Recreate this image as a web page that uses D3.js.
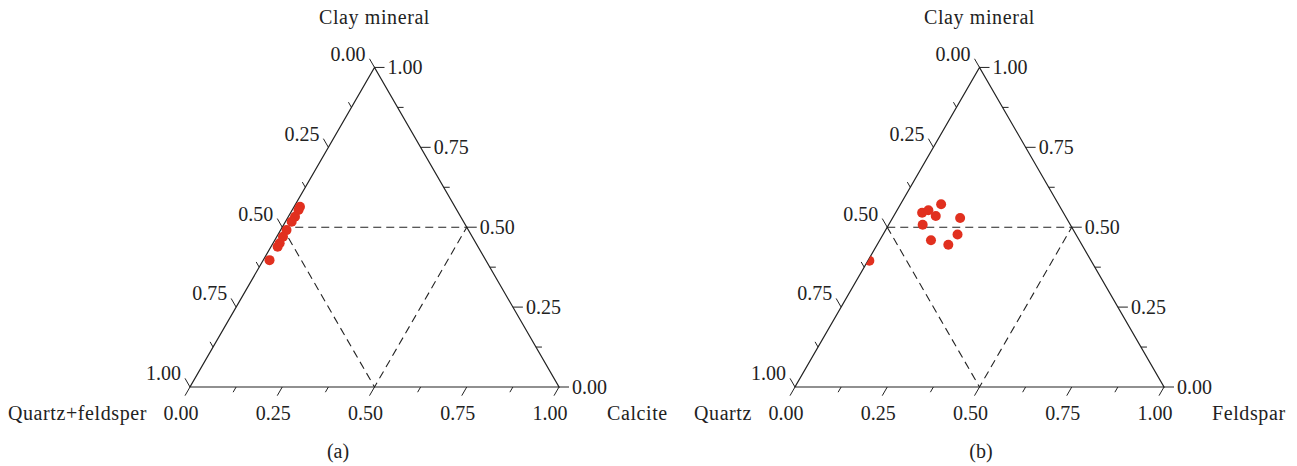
<!DOCTYPE html>
<html>
<head>
<meta charset="utf-8">
<script src="https://cdn.jsdelivr.net/npm/d3@7"></script>
<style>
  html, body { margin: 0; padding: 0; background: #fff; }
  svg { display: block; }
  text { font-family: "Liberation Serif", "Times New Roman", serif; fill: #222; }
  .title { letter-spacing: 0.6px; }
</style>
</head>
<body>
<script>
// tick values along each side, labels only on the quarter marks
const TICKS = [0, 0.125, 0.25, 0.375, 0.5, 0.625, 0.75, 0.875, 1]
const TICK_LABELS = ["0.00", "0.25", "0.50", "0.75", "1.00"]

// panel (a): clay mineral / quartz+feldsper / calcite
const clayA    = [0.564, 0.554, 0.533, 0.517, 0.491, 0.470, 0.450, 0.439, 0.397]
const calciteA = [0.016, 0.017, 0.018, 0.017, 0.016, 0.017, 0.018, 0.018, 0.017]

// panel (b): clay mineral / quartz / feldspar
const clayB     = [0.545, 0.553, 0.535, 0.572, 0.529, 0.508, 0.459, 0.477, 0.445, 0.395]
const feldsparB = [0.072, 0.085, 0.114, 0.110, 0.183, 0.092, 0.139, 0.202, 0.193, 0.004]

const panels = [
  { id: "a", x0: 190, top: "Clay mineral", left: "Quartz+feldsper", right: "Calcite",
    clay: clayA, bottom: calciteA, caption: "(a)", captionX: 338 },
  { id: "b", x0: 795, top: "Clay mineral", left: "Quartz", right: "Feldspar",
    clay: clayB, bottom: feldsparB, caption: "(b)", captionX: 981 }
]

const width = 1297, height = 466
const side = 369, base = 387
const h = side * Math.sqrt(3) / 2
const MAJOR = 10, MINOR = 6
const FS = 20

const svg = d3.select("body").append("svg")
  .attr("width", width).attr("height", height)

const defs = svg.append("defs")

panels.forEach(p => {
  const x = d3.scaleLinear().domain([0, 1]).range([p.x0, p.x0 + side])
  const y = d3.scaleLinear().domain([0, 1]).range([base, base - h])
  // b = value on bottom axis, c = clay
  const pt = (b, c) => [x(b + c / 2), y(c)]

  const g = svg.append("g")
  const corners = [pt(0, 0), pt(1, 0), pt(0, 1)]

  defs.append("clipPath").attr("id", "clip-" + p.id)
    .append("polygon").attr("points", corners.map(d => d.join(",")).join(" "))

  // dashed inner triangle between edge midpoints
  const mids = [pt(0, 0.5), pt(0.5, 0.5), pt(0.5, 0)]
  g.append("polygon")
    .attr("points", mids.map(d => d.join(",")).join(" "))
    .attr("fill", "none").attr("stroke", "#222").attr("stroke-width", 1.1)
    .attr("stroke-dasharray", "8,5")

  // outer triangle
  g.append("polygon")
    .attr("points", corners.map(d => d.join(",")).join(" "))
    .attr("fill", "none").attr("stroke", "#222").attr("stroke-width", 1.2)

  // ticks
  const axes = [
    { pos: v => pt(0, 1 - v), dir: [-0.5, -0.866] },   // left side
    { pos: v => pt(1 - v, v), dir: [1, 0] },           // right side
    { pos: v => pt(v, 0),     dir: [-0.5, 0.866] }     // bottom
  ]
  axes.forEach(ax => {
    TICKS.forEach((v, i) => {
      const [px, py] = ax.pos(v)
      const len = i % 2 === 0 ? MAJOR : MINOR
      g.append("line")
        .attr("x1", px).attr("y1", py)
        .attr("x2", px + ax.dir[0] * len).attr("y2", py + ax.dir[1] * len)
        .attr("stroke", "#222").attr("stroke-width", 1)
    })
  })

  TICK_LABELS.forEach((lab, i) => {
    const v = i * 0.25
    // left
    let [px, py] = axes[0].pos(v)
    g.append("text")
      .attr("x", px - 5 - 4).attr("y", py - 8.7 + 2)
      .attr("text-anchor", "end").attr("font-size", FS)
      .text(lab)
    // right
    ;[px, py] = axes[1].pos(v)
    g.append("text")
      .attr("x", px + MAJOR + 3).attr("y", py).attr("dy", "0.35em")
      .attr("text-anchor", "start").attr("font-size", FS)
      .text(lab)
    // bottom
    ;[px, py] = axes[2].pos(v)
    g.append("text")
      .attr("x", px - 9).attr("y", 420)
      .attr("text-anchor", "middle").attr("font-size", FS)
      .text(lab)
  })

  // corner titles
  g.append("text").attr("class", "title").attr("x", x(0.5)).attr("y", 24)
    .attr("text-anchor", "middle").attr("font-size", FS).text(p.top)
  g.append("text").attr("class", "title").attr("x", x(0) - 43).attr("y", 420)
    .attr("text-anchor", "end").attr("font-size", FS).text(p.left)
  g.append("text").attr("class", "title").attr("x", x(1) + 48).attr("y", 420)
    .attr("text-anchor", "start").attr("font-size", FS).text(p.right)
  g.append("text").attr("x", p.captionX).attr("y", 458)
    .attr("text-anchor", "middle").attr("font-size", FS).text(p.caption)

  // samples
  g.append("g").attr("clip-path", `url(#clip-${p.id})`)
    .selectAll("circle")
    .data(p.clay.map((c, i) => ({ c, b: p.bottom[i] })))
    .join("circle")
    .attr("cx", d => pt(d.b, d.c)[0])
    .attr("cy", d => pt(d.b, d.c)[1])
    .attr("r", 5)
    .attr("fill", "#e1301f")
})
</script>
</body>
</html>
